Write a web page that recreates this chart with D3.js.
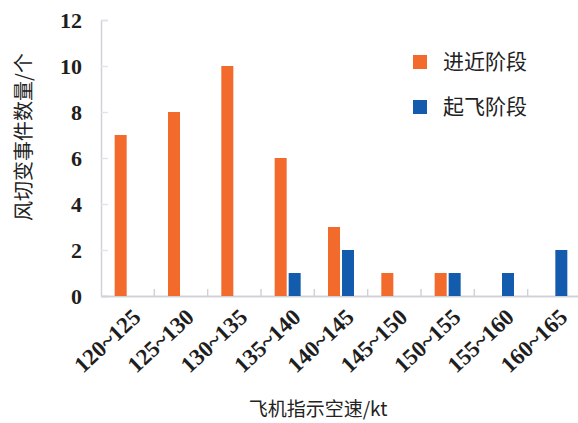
<!DOCTYPE html>
<html>
<head>
<meta charset="utf-8">
<script src="https://cdn.jsdelivr.net/npm/d3@7"></script>
<style>
  html, body { margin: 0; padding: 0; background: #fff; }
  svg { display: block; }
  .num { font-family: "Liberation Serif", "Times New Roman", serif; }
  .cjk { font-family: "Noto Sans CJK SC", sans-serif; }
</style>
</head>
<body>
<svg id="chart" width="578" height="423"></svg>
<script>
// Airspeed bins (kt)
const categories = ["120~125", "125~130", "130~135", "135~140", "140~145",
                    "145~150", "150~155", "155~160", "160~165"];
// Wind-shear event counts per flight phase
const approachCounts = [7, 8, 10, 6, 3, 1, 1, 0, 0];
const takeoffCounts  = [0, 0, 0, 1, 2, 0, 1, 1, 2];
const seriesNames = ["进近阶段", "起飞阶段"];
const yTicks = [0, 2, 4, 6, 8, 10, 12];

const colors = ["#f26a2c", "#135cad"];

const svg = d3.select("#chart");
const plot = { left: 101, right: 581, top: 20, bottom: 296 };

const x = d3.scaleBand().domain(categories).range([plot.left, plot.right]).padding(0);
const y = d3.scaleLinear().domain([0, 12]).range([plot.bottom, plot.top]);

const axisColor = "#cfd3d8";

// y axis
const yAxis = svg.append("g")
  .attr("transform", `translate(${plot.left},0)`)
  .call(d3.axisLeft(y).tickValues(yTicks).tickSize(-7).tickPadding(19).tickFormat(d3.format("d")));
yAxis.attr("font-family", null).attr("font-size", null);
yAxis.select(".domain").attr("stroke", axisColor).attr("stroke-width", 1.5);
yAxis.selectAll(".tick line").attr("stroke", "#e2e4e7").attr("stroke-width", 1.5);
yAxis.selectAll(".tick text")
  .attr("class", "num")
  .style("font-size", "22px").style("font-weight", "600").attr("fill", "#1e1e1e");

// x axis baseline with separators between bins
const xAxis = svg.append("g")
  .attr("transform", `translate(0,${plot.bottom})`)
  .call(d3.axisBottom(x).tickSize(0).tickFormat(""));
xAxis.select(".domain").attr("stroke", axisColor).attr("stroke-width", 2);
xAxis.selectAll(".tick").remove();

const seps = categories.slice(1).map(c => x(c));
svg.append("g").selectAll("line").data(seps).join("line")
  .attr("x1", d => d).attr("x2", d => d)
  .attr("y1", plot.bottom - 7).attr("y2", plot.bottom)
  .attr("stroke", axisColor).attr("stroke-width", 1.5);

// grouped bars
const barW = 12, gap = 1;
const groups = [approachCounts, takeoffCounts];
groups.forEach((vals, si) => {
  svg.append("g").selectAll("rect")
    .data(vals.map((v, i) => ({ v, c: categories[i] })).filter(d => d.v > 0))
    .join("rect")
    .attr("x", d => {
      const cx = x(d.c) + x.bandwidth() / 2;
      return si === 0 ? cx - gap - barW : cx + gap;
    })
    .attr("y", d => y(d.v))
    .attr("width", barW)
    .attr("height", d => y(0) - y(d.v))
    .attr("fill", colors[si]);
});

// rotated category labels
svg.append("g").selectAll("text").data(categories).join("text")
  .attr("class", "num")
  .attr("transform", d => `translate(${x(d) + x.bandwidth() / 2 + 9},${plot.bottom + 17}) rotate(-43)`)
  .attr("text-anchor", "end")
  .attr("dy", "0.35em")
  .style("font-size", "23px").style("font-weight", "600").attr("fill", "#1e1e1e")
  .text(d => d);

// axis titles
svg.append("text")
  .attr("class", "cjk")
  .attr("transform", "translate(24,137) rotate(-90)")
  .attr("text-anchor", "middle").attr("dy", "0.35em")
  .style("font-size", "20px").attr("fill", "#222")
  .text("风切变事件数量/个");

svg.append("text")
  .attr("class", "cjk")
  .attr("x", 318).attr("y", 409)
  .attr("text-anchor", "middle").attr("dy", "0.35em")
  .style("font-size", "19px").attr("fill", "#222")
  .text("飞机指示空速/kt");

// legend
const legend = svg.append("g").attr("transform", "translate(413,62)");
seriesNames.forEach((name, i) => {
  const g = legend.append("g").attr("transform", `translate(0,${i * 45})`);
  g.append("rect").attr("x", 0).attr("y", -7).attr("width", 14).attr("height", 14).attr("fill", colors[i]);
  g.append("text").attr("class", "cjk").attr("x", 30).attr("y", 0).attr("dy", "0.35em")
    .style("font-size", "21px").attr("fill", "#222")
    .text(name);
});
</script>
</body>
</html>
